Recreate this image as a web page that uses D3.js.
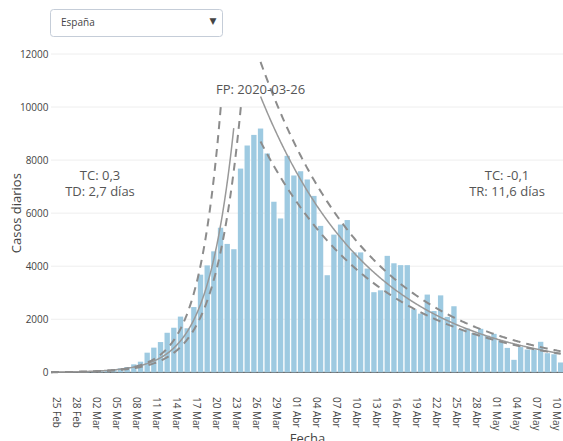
<!DOCTYPE html>
<html>
<head>
<meta charset="utf-8">
<script src="https://cdn.jsdelivr.net/npm/d3@7"></script>
<style>
  html, body { margin: 0; padding: 0; background: #fff; }
  svg { display: block; font-family: "Open Sans", sans-serif; }
</style>
</head>
<body>
<svg id="chart" width="563" height="441"></svg>
<script>
// Daily confirmed cases, Spain
const region = "España";

const dates = [
  "2020-02-25","2020-02-26","2020-02-27","2020-02-28","2020-02-29",
  "2020-03-01","2020-03-02","2020-03-03","2020-03-04","2020-03-05","2020-03-06","2020-03-07",
  "2020-03-08","2020-03-09","2020-03-10","2020-03-11","2020-03-12","2020-03-13","2020-03-14",
  "2020-03-15","2020-03-16","2020-03-17","2020-03-18","2020-03-19","2020-03-20","2020-03-21",
  "2020-03-22","2020-03-23","2020-03-24","2020-03-25","2020-03-26","2020-03-27","2020-03-28",
  "2020-03-29","2020-03-30","2020-03-31","2020-04-01","2020-04-02","2020-04-03","2020-04-04",
  "2020-04-05","2020-04-06","2020-04-07","2020-04-08","2020-04-09","2020-04-10","2020-04-11",
  "2020-04-12","2020-04-13","2020-04-14","2020-04-15","2020-04-16","2020-04-17","2020-04-18",
  "2020-04-19","2020-04-20","2020-04-21","2020-04-22","2020-04-23","2020-04-24","2020-04-25",
  "2020-04-26","2020-04-27","2020-04-28","2020-04-29","2020-04-30","2020-05-01","2020-05-02",
  "2020-05-03","2020-05-04","2020-05-05","2020-05-06","2020-05-07","2020-05-08","2020-05-09",
  "2020-05-10"
];

const cases = [
  2, 3, 5, 8, 15,
  25, 40, 75, 110, 150, 200, 300,
  400, 740, 930, 1140, 1490, 1680, 2100,
  1660, 2460, 3680, 4030, 4560, 5450, 4840,
  4640, 7680, 8550, 8950, 9190, 8250, 6430,
  5800, 8160, 7420, 7580, 7270, 6650, 5520,
  3660, 5190, 5570, 5740, 4520, 4520, 3910,
  3020, 3090, 4390, 4110, 4040, 4040, 2380,
  2210, 2930, 2310, 2900, 2090, 2490, 1620,
  1650, 1480, 1640, 1380, 1450, 1200, 920,
  470, 950, 860, 860, 1150, 720, 680,
  370
];

const tickDates = [
  "2020-02-25","2020-02-28","2020-03-02","2020-03-05","2020-03-08","2020-03-11","2020-03-14",
  "2020-03-17","2020-03-20","2020-03-23","2020-03-26","2020-03-29","2020-04-01","2020-04-04",
  "2020-04-07","2020-04-10","2020-04-13","2020-04-16","2020-04-19","2020-04-22","2020-04-25",
  "2020-04-28","2020-05-01","2020-05-04","2020-05-07","2020-05-10"
];
const tickLabels = [
  "25 Feb","28 Feb","02 Mar","05 Mar","08 Mar","11 Mar","14 Mar",
  "17 Mar","20 Mar","23 Mar","26 Mar","29 Mar","01 Abr","04 Abr",
  "07 Abr","10 Abr","13 Abr","16 Abr","19 Abr","22 Abr","25 Abr",
  "28 Abr","01 May","04 May","07 May","10 May"
];
const yTickValues = [0, 2000, 4000, 6000, 8000, 10000, 12000];

// Peak date and exponential-fit summary for each phase
const peakDate = "2020-03-26";
const growthRateText = "0,3";
const doublingDays = 2.7;
const declineRateText = "-0,1";
const halvingDays = 11.6;

// Fitted exponential curves: value at the reference date and daily rate
const growthFit   = { ref: "2020-03-22", value: 9250, rate: Math.LN2 / doublingDays };
const growthUpper = { ref: "2020-03-20", value: 9900, rate: 0.30 };
const growthLower = { ref: "2020-03-23", value: 9890, rate: 0.26 };
const declineFit   = { ref: "2020-03-26", value: 10400, rate: -Math.LN2 / halvingDays };
const declineUpper = { ref: "2020-03-26", value: 11700, rate: -0.0598 };
const declineLower = { ref: "2020-03-26", value: 8700,  rate: -0.0561 };

// ---- layout ----
const plotLeft = 51, plotRight = 564, plotTop = 54, plotBottom = 372.3;
const DAY = 864e5;
const parse = d3.utcParse("%Y-%m-%d");

const svg = d3.select("#chart");

const xStart = new Date(+parse(dates[0]) - 1.42 * DAY);
const xEnd = new Date(+parse(dates[dates.length - 1]) + 0.5 * DAY);
const x = d3.scaleUtc().domain([xStart, xEnd]).range([plotLeft, plotRight]);
const y = d3.scaleLinear().domain([0, 12000]).range([plotBottom, plotTop]);
const dayW = x(new Date(+xStart + DAY)) - x(xStart);

// grid
svg.append("g").selectAll("line")
  .data(yTickValues.filter(v => v > 0))
  .join("line")
  .attr("x1", plotLeft).attr("x2", plotRight)
  .attr("y1", d => y(d)).attr("y2", d => y(d))
  .attr("stroke", "#eee").attr("stroke-width", 1);

// zero line
svg.append("line")
  .attr("x1", plotLeft).attr("x2", plotRight)
  .attr("y1", y(0)).attr("y2", y(0))
  .attr("stroke", "#444").attr("stroke-width", 1);

// y tick labels
const yAxis = d3.axisLeft(y).tickValues(yTickValues).tickSize(0).tickPadding(2.5)
  .tickFormat(d3.format("d"));
svg.append("g")
  .attr("transform", `translate(${plotLeft},0)`)
  .call(yAxis)
  .call(g => g.select(".domain").remove())
  .call(g => g.selectAll("text").attr("fill", "#444").attr("font-size", 10)
    .attr("font-family", '"Open Sans", sans-serif'));

// bars
const barW = dayW * 0.8;
svg.append("g").selectAll("rect")
  .data(dates.map((d, i) => ({ date: parse(d), v: cases[i] })))
  .join("rect")
  .attr("x", d => x(d.date) - barW / 2)
  .attr("width", barW)
  .attr("y", d => y(d.v))
  .attr("height", d => y(0) - y(d.v))
  .attr("fill", "#9ecae1");

// fitted curves (exponential model evaluated along the date axis)
const cap = d3.max(cases) * 1.1;
function curvePoints(fit, from, to, limit) {
  const ref = +parse(fit.ref);
  const pts = [];
  const t0 = +from, t1 = +to, step = DAY / 10;
  for (let t = t0; t <= t1 + 1; t += step) {
    const v = fit.value * Math.exp(fit.rate * (t - ref) / DAY);
    if (limit && v > limit) {
      const tc = ref + Math.log(limit / fit.value) / fit.rate * DAY;
      pts.push([tc, limit]);
      break;
    }
    pts.push([t, v]);
  }
  return pts;
}
const line = d3.line().x(p => x(new Date(p[0]))).y(p => y(p[1]));
const lastDay = parse(dates[dates.length - 1]);
const peak = parse(peakDate);

const curves = [
  { pts: curvePoints(growthFit, xStart, parse(growthFit.ref), null), dashed: false },
  { pts: curvePoints(growthUpper, xStart, peak, cap), dashed: true },
  { pts: curvePoints(growthLower, xStart, peak, cap), dashed: true },
  { pts: curvePoints(declineFit, peak, lastDay, null), dashed: false },
  { pts: curvePoints(declineUpper, peak, lastDay, null), dashed: true },
  { pts: curvePoints(declineLower, peak, lastDay, null), dashed: true }
];
svg.append("g").selectAll("path")
  .data(curves)
  .join("path")
  .attr("d", c => line(c.pts))
  .attr("fill", "none")
  .attr("stroke", c => c.dashed ? "#8c8c8c" : "#999")
  .attr("stroke-width", c => c.dashed ? 2 : 1.5)
  .attr("stroke-dasharray", c => c.dashed ? "8,6" : null);

// x tick labels (rotated)
svg.append("g").selectAll("text")
  .data(tickDates.map((d, i) => ({ date: parse(d), label: tickLabels[i] })))
  .join("text")
  .attr("transform", d => `translate(${x(d.date) - 7.3},397) rotate(90)`)
  .attr("text-anchor", "start")
  .attr("font-size", 10)
  .attr("fill", "#444")
  .text(d => d.label);

// axis titles
svg.append("text")
  .attr("x", (plotLeft + plotRight) / 2).attr("y", 443)
  .attr("text-anchor", "middle").attr("font-size", 13).attr("fill", "#444")
  .text("Fecha");
svg.append("text")
  .attr("transform", `translate(20.5,${(plotTop + plotBottom) / 2}) rotate(-90)`)
  .attr("text-anchor", "middle").attr("font-size", 13).attr("fill", "#444")
  .text("Casos diarios");

// annotations
const annColor = "#555";
svg.append("text")
  .attr("x", x(peak)).attr("y", 94.3)
  .attr("text-anchor", "middle").attr("font-size", 13).attr("fill", annColor)
  .text("FP: " + peakDate);

function fmt(n) { return d3.format(".1f")(n).replace(".", ","); }
function block(cx, lines) {
  lines.forEach((s, i) => {
    svg.append("text").attr("text-anchor", "middle")
      .attr("font-size", 13).attr("fill", annColor)
      .attr("x", cx).attr("y", 180 + i * 16).text(s);
  });
}
block(100, ["TC: " + growthRateText, "TD: " + fmt(doublingDays) + " días"]);
block(507, ["TC: " + declineRateText, "TR: " + fmt(halvingDays) + " días"]);

// region selector
const menu = svg.append("g");
menu.append("rect")
  .attr("x", 50.5).attr("y", 9.5).attr("width", 172).attr("height", 27).attr("rx", 3)
  .attr("fill", "#fff").attr("stroke", "#c5cdd8").attr("stroke-width", 1);
menu.append("text")
  .attr("x", 61).attr("y", 25.5).attr("font-size", 10).attr("fill", "#444")
  .text(region);
menu.append("text")
  .attr("x", 213).attr("y", 23.5).attr("text-anchor", "middle")
  .attr("font-size", 9).attr("font-family", "DejaVu Sans").attr("fill", "#444")
  .text("▼");
</script>
</body>
</html>
